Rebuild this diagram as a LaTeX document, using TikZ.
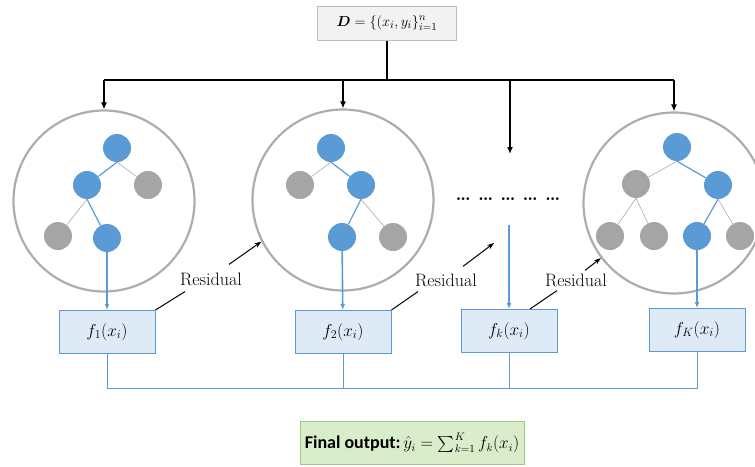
\documentclass[tikz,border=0pt]{standalone}
\usepackage{amsmath,amssymb}
\usepackage{fontspec}
\newfontfamily\calibri{Carlito}
\usetikzlibrary{arrows.meta}
\definecolor{bluen}{HTML}{5B9BD5}
\definecolor{grayn}{HTML}{A5A5A5}
\definecolor{ringc}{HTML}{ADADAD}
\definecolor{fboxc}{HTML}{DEEBF7}
\definecolor{dboxc}{HTML}{F2F2F2}
\definecolor{outfill}{HTML}{D9EDCB}
\definecolor{outdraw}{HTML}{9BCB7B}

\begin{document}
\begin{tikzpicture}[x=1pt, y=-1pt,
  ring/.style={circle, draw=ringc, line width=2.2pt, minimum size=181pt, inner sep=0pt},
  tn/.style={circle, minimum size=28pt, inner sep=0pt},
  bn/.style={tn, fill=bluen},
  gn/.style={tn, fill=grayn},
  gedge/.style={gray!75, line width=0.5pt},
  bedge/.style={bluen, line width=1.2pt},
  fbox/.style={draw=bluen, fill=fboxc, line width=1pt, minimum width=96pt, minimum height=43pt, font=\fontsize{17.5}{20}\selectfont},
  dbox/.style={draw=ringc!80, fill=dboxc, line width=1pt, minimum width=139pt, minimum height=34pt, font=\fontsize{15}{18}\selectfont},
  outbox/.style={draw=outdraw, fill=outfill, line width=1pt, minimum width=224pt, minimum height=43pt, font=\fontsize{16}{19}\selectfont},
  bus/.style={line width=1.6pt},
  busarr/.style={bus, -{Latex[length=7pt,width=6pt]}},
  blarr/.style={bluen, line width=1.6pt, -{Latex[length=6pt,width=5pt]}},
  sumline/.style={bluen, line width=0.8pt},
  reslbl/.style={font=\fontsize{18}{21}\selectfont, inner sep=2pt},
  resarr/.style={line width=1pt, -{Stealth[length=7pt,width=5pt]}},
  resline/.style={line width=1pt}]

\useasboundingbox (0,0) rectangle (755,466);

\node[dbox] (D) at (387,23) {$\boldsymbol{D}=\{(x_i,y_i\}_{i=1}^{n}$};

\coordinate (busA) at (104,80);
\coordinate (busB) at (343,80);
\coordinate (busC) at (510,80);
\coordinate (busD) at (674,80);
\coordinate (midtop) at (510,154);
\coordinate (midbot) at (509,225);
\coordinate (midres) at (494,243);
\coordinate (sumA) at (107,388);
\coordinate (sumD) at (697,388);

\node[ring] (c1) at (104,201) {};
\node[ring] (c2) at (343,200) {};
\node[ring] (c4) at (674,203) {};

\draw[bus] (D.south) -- (D.south |- busA);
\draw[bus] (busA) -- (busD);
\draw[busarr] (busA) -- (c1);
\draw[busarr] (busB) -- (c2);
\draw[busarr] (busC) -- (midtop);
\draw[busarr] (busD) -- (c4);

\node[bn] (t1root) at (117,148) {};
\node[bn] (t1L) at (87,185) {};
\node[gn] (t1R) at (148,185) {};
\node[gn] (t1LL) at (58,236) {};
\node[bn] (t1LR) at (107,238) {};
\draw[bedge] (t1root.south) -- (t1L);
\draw[gedge] (t1root.south) -- (t1R);
\draw[gedge] (t1L.south) -- (t1LL);
\draw[bedge] (t1L.south) -- (t1LR);

\node[bn] (t2root) at (331,148) {};
\node[gn] (t2L) at (300,185) {};
\node[bn] (t2R) at (361,185) {};
\node[bn] (t2RL) at (342,237) {};
\node[gn] (t2RR) at (393,237) {};
\draw[gedge] (t2root.south) -- (t2L);
\draw[bedge] (t2root.south) -- (t2R);
\draw[bedge] (t2R.south) -- (t2RL);
\draw[gedge] (t2R.south) -- (t2RR);

\node[bn] (t4root) at (677,147) {};
\node[gn] (t4L) at (636,184) {};
\node[bn] (t4R) at (718,185) {};
\node[gn] (t4LL) at (610,236) {};
\node[gn] (t4LR) at (654,236) {};
\node[bn] (t4RL) at (697,236) {};
\node[gn] (t4RR) at (740,236) {};
\draw[gedge] (t4root.south) -- (t4L);
\draw[bedge] (t4root.south) -- (t4R);
\draw[gedge] (t4L.south) -- (t4LL);
\draw[gedge] (t4L.south) -- (t4LR);
\draw[bedge] (t4R.south) -- (t4RL);
\draw[gedge] (t4R.south) -- (t4RR);

\node[font=\fontsize{19}{22}\selectfont\bfseries, anchor=base] (dots) at (508,200) {\ldots\ \ldots\ \ldots\ \ldots\ \ldots};

\node[fbox] (f1) at (107,332) {$f_1(x_i)$};
\node[fbox] (f2) at (343,332) {$f_2(x_i)$};
\node[fbox] (fk) at (509,331) {$f_k(x_i)$};
\node[fbox] (fK) at (697,330) {$f_K(x_i)$};

\draw[blarr] (t1LR) -- (f1);
\draw[blarr] (t2RL) -- (f2);
\draw[blarr] (midbot) -- (fk);
\draw[blarr] (t4RL) -- (fK);

\node[reslbl] (res1) at (211,279) {Residual};
\node[reslbl] (res2) at (446,280) {Residual};
\node[reslbl] (res3) at (576,280) {Residual};

\draw[resarr] ([shift={(18,-6)}]res1.north) -- (c2.207);
\draw[resarr] ([shift={(17,-5)}]res2.north) -- (midres);
\draw[resarr] ([shift={(9,-1)}]res3.north) -- (c4.217);
\draw[resline] (f1.north east) -- ([shift={(7,4)}]res1.south west);
\draw[resline] (f2.north east) -- ([shift={(5,3)}]res2.south west);
\draw[resline] ([xshift=21pt]fk.north) -- ([shift={(14,2)}]res3.south west);

\draw[sumline] (f1) -- (sumA) -- (sumD) -- (fK);
\draw[sumline] (f2) -- (f2 |- sumA);
\draw[sumline] (fk) -- (fk |- sumA);

\node[outbox] (out) at (412,443) {{\calibri\fontsize{18}{21}\selectfont\bfseries Final output:}\,$\hat{y}_i=\sum_{k=1}^{K} f_k(x_i)$};
\end{tikzpicture}
\end{document}
